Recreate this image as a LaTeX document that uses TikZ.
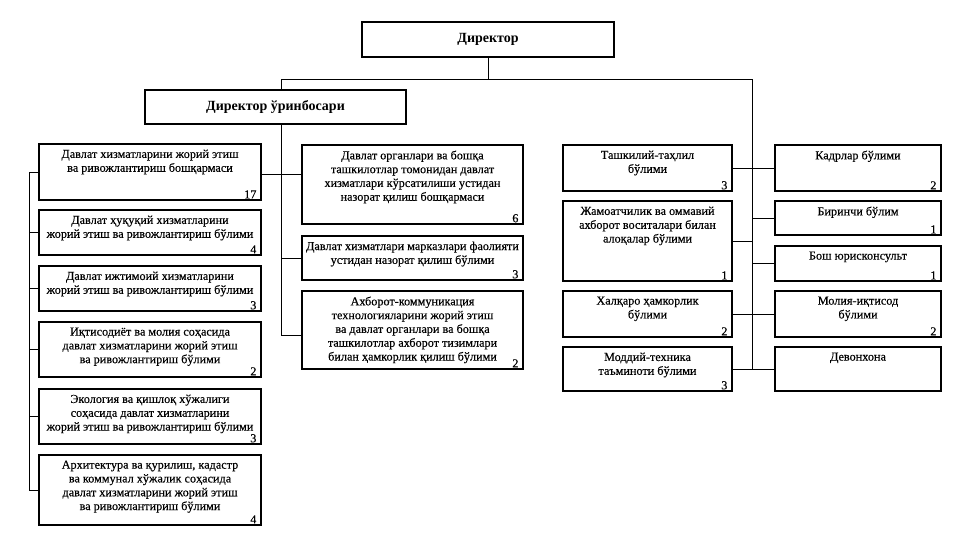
\documentclass[tikz,border=0pt]{standalone}
\usepackage{fontspec}
\setmainfont{Liberation Serif}
\newfontfamily\bodyfont[FakeBold=0.3]{Liberation Serif}
\usetikzlibrary{fit}
\tikzset{
 bx/.style={draw, line width=1.2pt, inner sep=0pt},
 tx/.style={anchor=north, align=center, font=\bodyfont\fontsize{12.2}{13.8}\selectfont, inner sep=0pt},
 hd/.style={anchor=center, font=\bfseries\fontsize{14}{16}\selectfont, inner sep=0pt},
 nm/.style={anchor=south east, font=\bodyfont\fontsize{12.2}{13.8}\selectfont, inner sep=0pt, xshift=-5pt, yshift=2pt},
 ln/.style={line width=0.9pt},
}
\newcommand\obox[6]{\node[bx, fit={(#2,#3) (#4,#5)}] (#1) {};
 \node[tx] (#1t) at ([yshift=-6pt]#1.north) {#6};}
\begin{document}
\begin{tikzpicture}[x=1pt,y=-1pt]
\useasboundingbox (0,0) rectangle (960,552);
% top
\node[bx, fit={(362,22) (614,57)}] (dir) {};
\node[hd] (dirt) at (dir) {Директор};
\node[bx, fit={(145,90) (406,124)}] (dep) {};
\node[hd] (dept) at (dep) {Директор ўринбосари};
% left column
\obox{L1}{39}{144}{261}{200}{Давлат хизматларини жорий этиш\\ва ривожлантириш бошқармаси}
\obox{L2}{39}{210}{261}{255}{Давлат ҳуқуқий хизматларини\\жорий этиш ва ривожлантириш бўлими}
\obox{L3}{39}{266}{261}{311}{Давлат ижтимоий хизматларини\\жорий этиш ва ривожлантириш бўлими}
\obox{L4}{39}{322}{261}{377}{Иқтисодиёт ва молия соҳасида\\давлат хизматларини жорий этиш\\ва ривожлантириш бўлими}
\obox{L5}{39}{389}{261}{444}{Экология ва қишлоқ хўжалиги\\соҳасида давлат хизматларини\\жорий этиш ва ривожлантириш бўлими}
\obox{L6}{39}{455}{261}{525}{Архитектура ва қурилиш, кадастр\\ва коммунал хўжалик соҳасида\\давлат хизматларини жорий этиш\\ва ривожлантириш бўлими}
\node[nm] (L1n) at (L1.south east) {17};
\node[nm] (L2n) at (L2.south east) {4};
\node[nm] (L3n) at (L3.south east) {3};
\node[nm] (L4n) at (L4.south east) {2};
\node[nm] (L5n) at (L5.south east) {3};
\node[nm] (L6n) at (L6.south east) {4};
% middle column
\obox{M1}{302}{145}{523}{224}{Давлат органлари ва бошқа\\ташкилотлар томонидан давлат\\хизматлари кўрсатилиши устидан\\назорат қилиш бошқармаси}
\obox{M2}{302}{236}{523}{280}{Давлат хизматлари марказлари фаолияти\\устидан назорат қилиш бўлими}
\obox{M3}{302}{291}{523}{369}{Ахборот-коммуникация\\технологияларини жорий этиш\\ва давлат органлари ва бошқа\\ташкилотлар ахборот тизимлари\\билан ҳамкорлик қилиш бўлими}
\node[nm] (M1n) at (M1.south east) {6};
\node[nm] (M2n) at (M2.south east) {3};
\node[nm] (M3n) at (M3.south east) {2};
% right columns
\obox{R1}{563}{145}{732}{191}{Ташкилий-таҳлил\\бўлими}
\obox{R2}{563}{201}{732}{281}{Жамоатчилик ва оммавий\\ахборот воситалари билан\\алоқалар бўлими}
\obox{R3}{563}{291}{732}{337}{Халқаро ҳамкорлик\\бўлими}
\obox{R4}{563}{347}{732}{391}{Моддий-техника\\таъминоти бўлими}
\node[nm] (R1n) at (R1.south east) {3};
\node[nm] (R2n) at (R2.south east) {1};
\node[nm] (R3n) at (R3.south east) {2};
\node[nm] (R4n) at (R4.south east) {3};
\obox{S1}{775}{145}{941}{191}{Кадрлар бўлими}
\obox{S2}{775}{201}{941}{235}{Биринчи бўлим}
\obox{S3}{775}{246}{941}{281}{Бош юрисконсульт}
\obox{S4}{775}{291}{941}{337}{Молия-иқтисод\\бўлими}
\obox{S5}{775}{347}{941}{391}{Девонхона}
\node[nm] (S1n) at (S1.south east) {2};
\node[nm] (S2n) at (S2.south east) {1};
\node[nm] (S3n) at (S3.south east) {1};
\node[nm] (S4n) at (S4.south east) {2};
% connectors
\coordinate (h1) at (281,79);
\coordinate (h2) at (752,79);
\coordinate (ms1) at (281,174);
\coordinate (ms3) at (281,335);
\coordinate (ls) at (29,0);
\draw[ln] (dir.south) -- (dir.south |- h1);
\draw[ln] (h1) -- (h2);
\draw[ln] (h1) -- (h1 |- dep.north);
\draw[ln] (dep.south -| h1) -- (ms3);
\draw[ln] (ms1 -| L1.east) -- (ms1 -| M1.west);
\draw[ln] (M2.west) -- (M2.west -| h1);
\draw[ln] (ms3) -- (ms3 -| M3.west);
\draw[ln] (L1.west) -- (L1.west -| ls) -- (L6.west -| ls) -- (L6.west);
\foreach \n in {L2,L3,L4,L5} \draw[ln] (\n.west) -- (\n.west -| ls);
\draw[ln] (h2) -- (h2 |- S5.west);
\draw[ln] (R1.east) -- (S1.west);
\draw[ln] (S2.west) -- (S2.west -| h2);
\draw[ln] (R2.east) -- (R2.east -| h2);
\draw[ln] (S3.west) -- (S3.west -| h2);
\draw[ln] (R3.east) -- (S4.west);
\draw[ln] (R4.east) -- (S5.west);
\end{tikzpicture}
\end{document}
